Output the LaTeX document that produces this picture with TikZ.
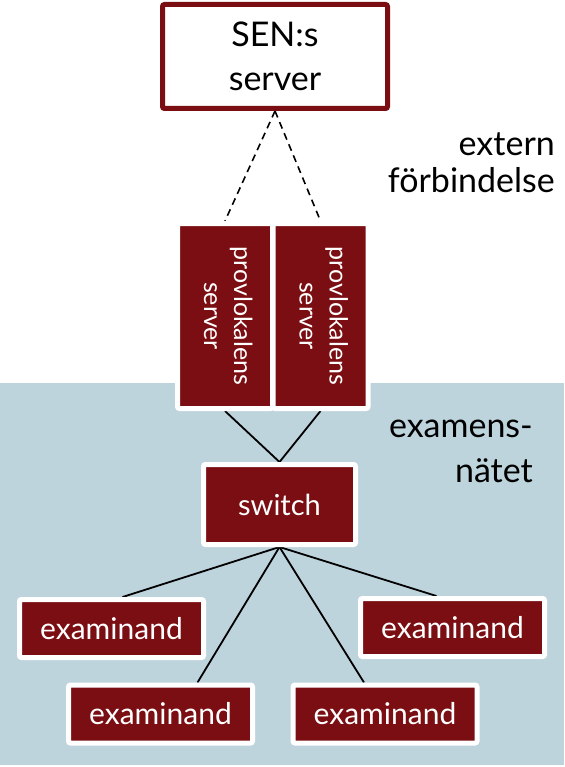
\documentclass[tikz,border=0pt]{standalone}
\usepackage{fontspec}
\usepackage{graphicx}
\setmainfont{Lato}
\usetikzlibrary{calc}
\definecolor{dred}{RGB}{122,14,18}
\definecolor{netblue}{RGB}{190,212,221}
\pgfdeclarelayer{back}
\pgfdeclarelayer{edges}
\pgfsetlayers{back,edges,main}
\begin{document}
\begin{tikzpicture}[x=1pt,y=-1pt,
  redbox/.style={draw=white,line width=5pt,fill=dred,text=white,rounded corners=2pt,inner sep=0pt},
  exbox/.style={redbox,minimum width=184pt,minimum height=58pt,font=\fontsize{30}{32}\selectfont},
  link/.style={line width=1.8pt},
  dashlink/.style={line width=1.6pt,dash pattern=on 7pt off 5pt},
  side/.style={anchor=base east,inner sep=0pt,font=\fontsize{34}{36}\selectfont}]
\useasboundingbox (0,0) rectangle (564,767);
\begin{pgfonlayer}{back}
  \fill[netblue] (0,383) rectangle (564,765);
\end{pgfonlayer}
\node[draw=dred,line width=5pt,fill=white,rounded corners=2pt,minimum width=225pt,minimum height=104pt,inner sep=0pt,align=center,font=\fontsize{34}{44}\selectfont] (sen) at (275,56.5) {SEN:s\\server};
\node[redbox,minimum width=95pt,minimum height=185pt] (p1) at (225,316)
  {\rotatebox{-90}{\fontsize{25}{30}\selectfont\begin{tabular}{@{}c@{}}provlokalens\\server\end{tabular}}};
\node[redbox,minimum width=95pt,minimum height=185pt] (p2) at (320.5,316)
  {\rotatebox{-90}{\fontsize{25}{30}\selectfont\begin{tabular}{@{}c@{}}provlokalens\\server\end{tabular}}};
\node[redbox,minimum width=152pt,minimum height=80pt,font=\fontsize{29}{32}\selectfont] (sw) at (279.5,504.5) {switch};
\node[exbox] (e1) at (111.5,628.5) {examinand};
\node[exbox] (e2) at (160.5,714) {examinand};
\node[exbox] (e3) at (385,714) {examinand};
\node[exbox] (e4) at (452.5,627.5) {examinand};
\node[side] (t1) at (555,156) {extern};
\node[side] (t2) at (555,192.5) {förbindelse};
\node[side] (t3) at (533,437) {examens-};
\node[side] (t4) at (533,482) {nätet};
\begin{pgfonlayer}{edges}
  \draw[dashlink] (sen.south) -- (p1.north);
  \draw[dashlink] (sen.south) -- (p2.north);
  \draw[link] (p1.south) -- (sw.north);
  \draw[link] (p2.south) -- (sw.north);
  \draw[link] (sw.south) -- ($(e1.north)+(11,0)$);
  \draw[link] (sw.south) -- ($(e2.north)+(37,0)$);
  \draw[link] (sw.south) -- ($(e3.north)+(-21,0)$);
  \draw[link] (sw.south) -- ($(e4.north)+(-16,0)$);
\end{pgfonlayer}
\end{tikzpicture}
\end{document}
